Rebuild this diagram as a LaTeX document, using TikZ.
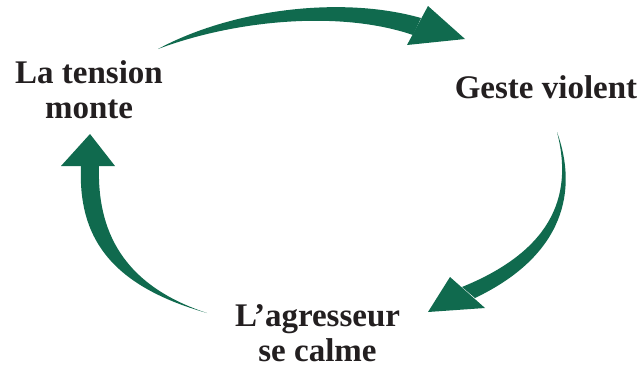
\documentclass[tikz,border=0pt]{standalone}
\usepackage{fontspec}
\setmainfont{Liberation Serif}
\definecolor{arrowgreen}{HTML}{106A4E}
\definecolor{inkdark}{HTML}{231F20}
\tikzset{
  label/.style={font=\fontsize{33}{35.5}\selectfont\bfseries, text=inkdark, align=center, inner sep=0pt, anchor=base},
  arrowfill/.style={fill=arrowgreen, draw=none}
}
\begin{document}
\begin{tikzpicture}[x=1pt,y=-1pt]
\useasboundingbox (0,0) rectangle (642,367);
% labels (base anchor = baseline of the last line)
\node[label] (tension) at (89,118.5) {La tension\\monte};
\node[label] (geste) at (546,98) {Geste violent};
\node[label] (calme) at (317.5,361.5) {L’agresseur\\se calme};
% top arrow (tension -> geste)
\coordinate (t1tail) at (158,49);
\fill[arrowfill] (t1tail) .. controls (230,10) and (340,-5) .. (421,18)
  -- (413,35) .. controls (340,10) and (235,20) .. (t1tail) -- cycle;
\fill[arrowfill] (428,6) -- (465,39) -- (407,45) -- cycle;
% right arrow (geste -> calme)
\coordinate (t2tail) at (557,132);
\fill[arrowfill] (t2tail) .. controls (578,190) and (565,255) .. (475,298)
  -- (462,287) .. controls (558,248) and (572,190) .. (t2tail) -- cycle;
\fill[arrowfill] (450,277) -- (485,308) -- (428,312) -- cycle;
% left arrow (calme -> tension)
\coordinate (t3tail) at (207,313);
\fill[arrowfill] (t3tail) .. controls (108,285) and (78,235) .. (81,166)
  -- (99,166) .. controls (97,230) and (122,285) .. (t3tail) -- cycle;
\fill[arrowfill] (90,134) -- (115,166) -- (61,166) -- cycle;
\end{tikzpicture}
\end{document}
